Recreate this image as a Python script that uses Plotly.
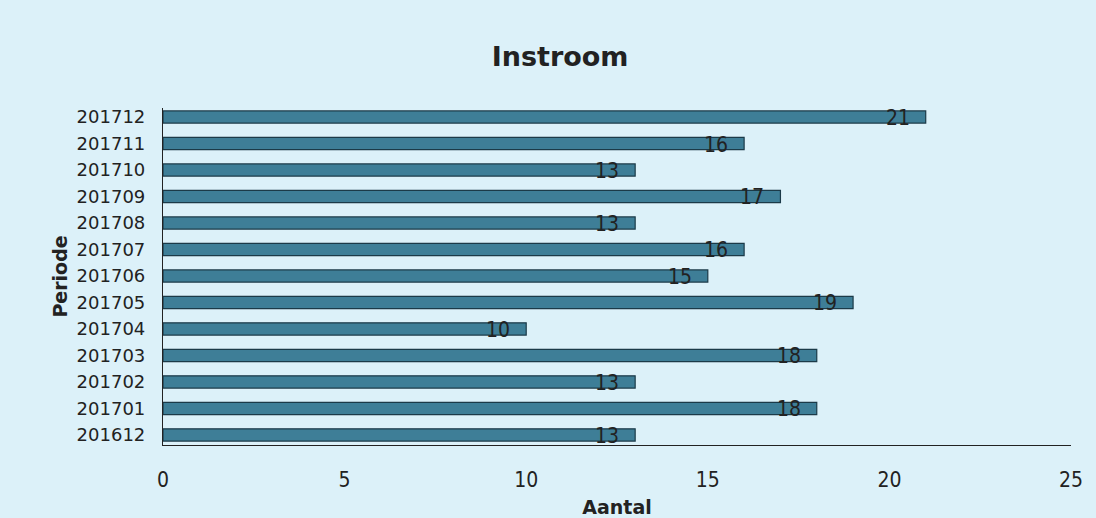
import plotly.graph_objects as go

periods = ["201612", "201701", "201702", "201703", "201704", "201705", "201706",
           "201707", "201708", "201709", "201710", "201711", "201712"]
counts = [13, 18, 13, 18, 10, 19, 15, 16, 13, 17, 13, 16, 21]
x_ticks = [0, 5, 10, 15, 20, 25]

bg = "#dcf1f9"
cond = "Liberation Sans Narrow, DejaVu Sans Condensed, sans-serif"

fig = go.Figure()
fig.add_trace(go.Bar(
    x=counts, y=periods, orientation="h",
    marker=dict(color="#3e7e97", line=dict(color="#1b3a48", width=1.2)),
    width=0.46, hoverinfo="x+y",
))

for i, v in enumerate(counts):
    fig.add_annotation(x=v, y=i, text=str(v), showarrow=False, xanchor="right",
                       xshift=-14, yshift=-1,
                       font=dict(family=cond, size=21, color="#222222"))

fig.update_layout(
    width=1096, height=518,
    paper_bgcolor=bg, plot_bgcolor=bg,
    margin=dict(l=163, r=25, t=108, b=73),
    showlegend=False,
    title=dict(text="<b>Instroom</b>", x=0.511, xanchor="center", y=0.89, yanchor="middle",
               font=dict(family="DejaVu Sans", size=27, color="#222222")),
    xaxis=dict(range=[0, 25], tickvals=x_ticks, showgrid=False, zeroline=False,
               showline=True, linecolor="#222222", linewidth=1.2, automargin=False,
               ticks="", ticklabelstandoff=16,
               tickfont=dict(family=cond, size=21, color="#222222"),
               title=dict(text="<b>Aantal</b>", standoff=19,
                          font=dict(family="DejaVu Sans", size=19, color="#222222"))),
    yaxis=dict(type="category", categoryorder="array", categoryarray=periods,
               range=[-0.38, 12.34], showgrid=False, zeroline=False, automargin=False,
               showline=True, linecolor="#222222", linewidth=1.2, ticks="",
               ticklabelstandoff=13,
               tickfont=dict(family="DejaVu Sans", size=18, color="#222222"),
               title=dict(text="<b>Periode</b>", standoff=3,
                          font=dict(family="DejaVu Sans", size=19, color="#222222"))),
)

fig.write_html("out.html", config={"displayModeBar": False},
               post_script="document.body.style.margin='0';document.body.style.background='%s';" % bg)
